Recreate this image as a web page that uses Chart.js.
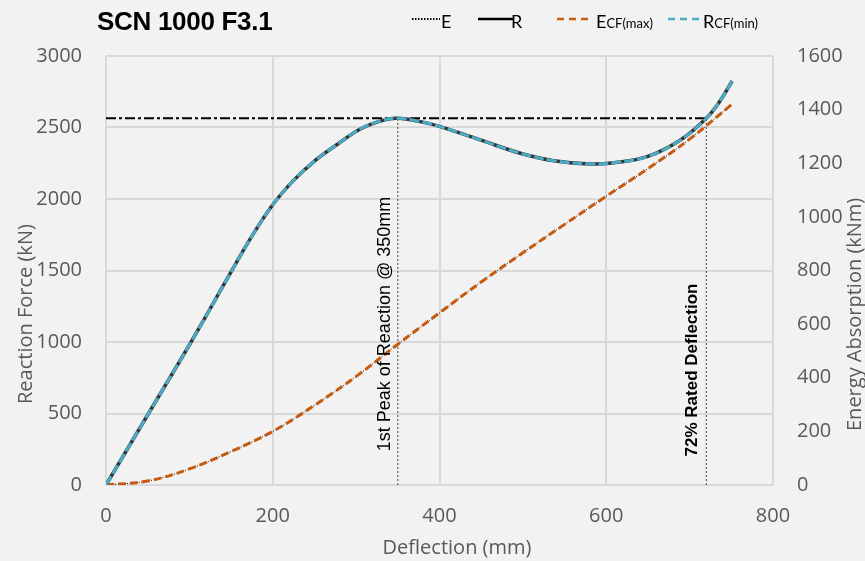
<!DOCTYPE html>
<html>
<head>
<meta charset="utf-8">
<script src="https://cdn.jsdelivr.net/npm/chart.js@4/dist/chart.umd.min.js"></script>
<style>
  html, body { margin: 0; padding: 0; background: #f2f2f2; }
  #wrap { position: relative; width: 865px; height: 561px; overflow: hidden; }
  canvas { position: absolute; left: 0; top: 0; }
  .title { position: absolute; left: 97px; top: 8px; font: bold 26px "Liberation Sans", Arial, sans-serif; line-height: 26px; color: #000; white-space: nowrap; letter-spacing: -0.3px; }
  .lg { position: absolute; top: 12px; font: 18px Lato, sans-serif; line-height: 18px; color: #000; white-space: nowrap; }
  .lg sub { font-size: 13px; vertical-align: baseline; }
</style>
</head>
<body>
<div id="wrap">
  <canvas id="chart" width="865" height="561"></canvas>
  <div class="title">SCN 1000 F3.1</div>
  <svg style="position:absolute;left:0;top:0" width="865" height="40">
    <line x1="412" y1="19" x2="440" y2="19" stroke="#000" stroke-width="2" stroke-dasharray="1.5,1.5"/>
    <line x1="478" y1="19" x2="513" y2="19" stroke="#000" stroke-width="2.5"/>
    <line x1="557" y1="19" x2="592" y2="19" stroke="#c55a11" stroke-width="2.5" stroke-dasharray="7,5"/>
    <line x1="668" y1="19" x2="705" y2="19" stroke="#4bacc6" stroke-width="2.5" stroke-dasharray="7,5"/>
  </svg>
  <div class="lg" style="left:441px">E</div>
  <div class="lg" style="left:511px">R</div>
  <div class="lg" style="left:596px">E<sub>CF(max)</sub></div>
  <div class="lg" style="left:703px">R<sub>CF(min)</sub></div>
</div>
<script>
// reaction force curve (kN) against deflection (mm)
const deflR = [0, 51, 102, 150, 175, 200, 225, 250, 275, 305, 333, 350, 377, 401, 449, 497, 537, 581, 609, 649, 689, 720, 737, 751];
const reaction = [0, 500, 1000, 1490, 1740, 1960, 2130, 2265, 2372, 2490, 2552, 2565, 2541, 2506, 2413, 2320, 2268, 2245, 2254, 2296, 2413, 2565, 2690, 2825];

// energy absorption curve (kNm) against deflection (mm)
const deflE = [0, 50, 100, 150, 200, 250, 300, 350, 400, 450, 500, 550, 600, 650, 700, 750];
const energy = [0, 15, 60, 125, 200, 297, 405, 525, 642, 757, 866, 972, 1077, 1180, 1290, 1418];

// reference markers
const peakDefl = 350;
const ratedDefl = 720;
const peakForce = 2565;

const xTicks = [0, 200, 400, 600, 800];

const pts = (xs, ys) => xs.map((x, i) => ({ x, y: ys[i] }));

const GREY = "#595959";
const TICK_FONT = { family: "Open Sans", size: 20 };
const plain = v => String(v);

const labelsPlugin = {
  id: "labels",
  afterDatasetsDraw(chart) {
    const { ctx, scales } = chart;
    const xs = scales.x;
    ctx.save();
    ctx.fillStyle = "#000";
    ctx.textBaseline = "middle";
    ctx.textAlign = "center";

    ctx.save();
    ctx.translate(xs.getPixelForValue(peakDefl) - 13, 324);
    ctx.rotate(-Math.PI / 2);
    ctx.font = '18px "Liberation Sans", Arial, sans-serif';
    ctx.fillText("1st Peak of Reaction @ 350mm", 0, 0);
    ctx.restore();

    ctx.save();
    ctx.translate(xs.getPixelForValue(ratedDefl) - 14, 370);
    ctx.rotate(-Math.PI / 2);
    ctx.font = 'bold 17px "Liberation Sans", Arial, sans-serif';
    ctx.fillText("72% Rated Deflection", 0, 0);
    ctx.restore();

    // axis titles
    ctx.fillStyle = GREY;
    ctx.font = '20px "Open Sans", sans-serif';
    ctx.textBaseline = "alphabetic";

    ctx.save();
    ctx.translate(32, 404);
    ctx.rotate(-Math.PI / 2);
    ctx.textAlign = "left";
    ctx.fillText("Reaction Force (kN)", 0, 0);
    ctx.restore();

    ctx.save();
    ctx.translate(861, 431);
    ctx.rotate(-Math.PI / 2);
    ctx.textAlign = "left";
    ctx.fillText("Energy Absorption (kNm)", 0, 0);
    ctx.restore();

    ctx.textAlign = "center";
    ctx.fillText("Deflection (mm)", 457, 554);
    ctx.restore();
  }
};

new Chart(document.getElementById("chart"), {
  type: "line",
  data: {
    datasets: [
      {
        label: "RCF(min)",
        data: pts(deflR, reaction),
        yAxisID: "yL",
        borderColor: "#4bacc6",
        borderWidth: 3,
        borderDash: [10, 3],
        order: 1
      },
      {
        label: "R",
        data: pts(deflR, reaction),
        yAxisID: "yL",
        borderColor: "#333",
        borderWidth: 3.5,
        order: 2
      },
      {
        label: "ECF(max)",
        data: pts(deflE, energy),
        yAxisID: "yR",
        borderColor: "#c55a11",
        borderWidth: 3,
        borderDash: [8, 4],
        order: 3
      },
      {
        label: "E",
        data: pts(deflE, energy),
        yAxisID: "yR",
        borderColor: "#000",
        borderWidth: 1,
        borderDash: [1, 2],
        order: 4
      },
      {
        label: "peak level",
        data: [{ x: 0, y: peakForce }, { x: ratedDefl, y: peakForce }],
        yAxisID: "yL",
        borderColor: "#000",
        borderWidth: 2,
        borderDash: [10, 3, 3, 3],
        tension: 0,
        order: 5
      },
      {
        label: "peak",
        data: [{ x: peakDefl, y: 0 }, { x: peakDefl, y: peakForce }],
        yAxisID: "yL",
        borderColor: "#444",
        borderWidth: 1,
        borderDash: [2, 2],
        tension: 0,
        order: 6
      },
      {
        label: "rated",
        data: [{ x: ratedDefl, y: 0 }, { x: ratedDefl, y: peakForce }],
        yAxisID: "yL",
        borderColor: "#444",
        borderWidth: 1,
        borderDash: [2, 2],
        tension: 0,
        order: 6
      }
    ]
  },
  options: {
    responsive: false,
    animation: false,
    layout: { padding: { top: 56, left: 0, right: 0, bottom: 0 } },
    elements: {
      point: { radius: 0 },
      line: { fill: false, tension: 0.4 }
    },
    plugins: { legend: { display: false }, tooltip: { enabled: false } },
    scales: {
      x: {
        type: "linear",
        min: 0,
        max: 800,
        afterBuildTicks: s => { s.ticks = xTicks.map(v => ({ value: v })) },
        afterFit: s => { s.height = 76 },
        grid: { color: "#d9d9d9", lineWidth: 2, drawTicks: false },
        border: { display: false },
        ticks: { color: GREY, font: TICK_FONT, padding: 19, maxRotation: 0, callback: plain }
      },
      yL: {
        position: "left",
        min: 0,
        max: 3000,
        afterFit: s => { s.width = 106 },
        grid: { color: "#d9d9d9", lineWidth: 2, drawTicks: false },
        border: { display: false },
        ticks: { stepSize: 500, color: GREY, font: TICK_FONT, padding: 24, callback: plain }
      },
      yR: {
        position: "right",
        min: 0,
        max: 1600,
        afterFit: s => { s.width = 92 },
        grid: { display: false, drawTicks: false },
        border: { display: false },
        ticks: { stepSize: 200, color: GREY, font: TICK_FONT, padding: 24, callback: plain }
      }
    }
  },
  plugins: [labelsPlugin]
});
</script>
</body>
</html>
